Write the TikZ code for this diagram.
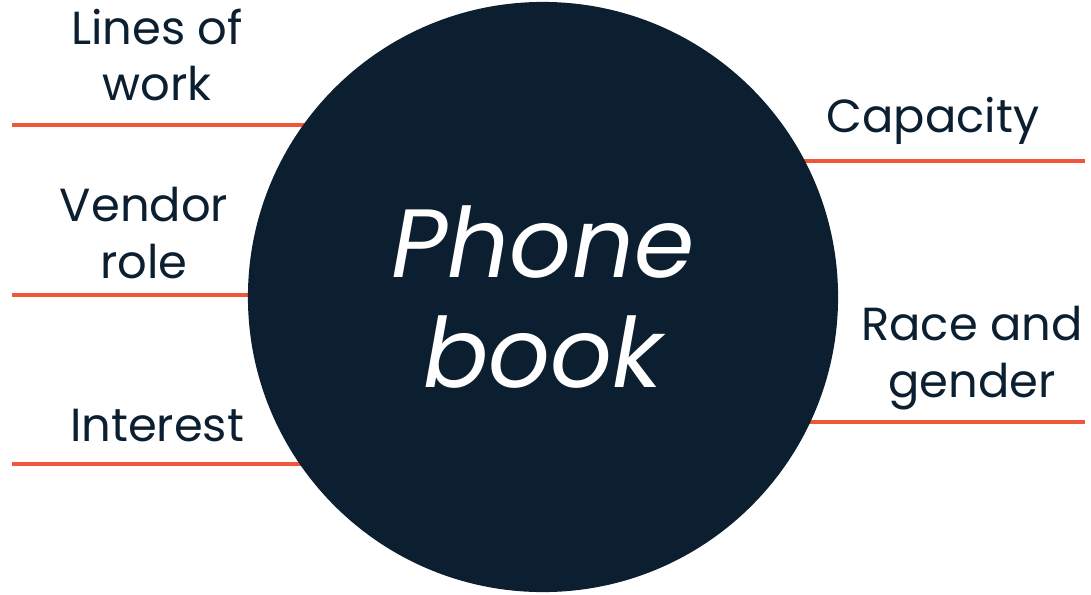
\documentclass[tikz,border=0pt]{standalone}
\usepackage{fontspec}
\setmainfont{Poppins}
\usetikzlibrary{backgrounds}
\definecolor{bookNavy}{RGB}{11,31,48}
\definecolor{lineOrange}{RGB}{240,86,58}

\begin{document}
\begin{tikzpicture}[x=0.025cm, y=-0.025cm,
    field/.style={anchor=center, align=center, text=bookNavy, font=\fontsize{33}{40.5}\selectfont},
    rule/.style={draw=lineOrange, line width=2.9pt}]
    \useasboundingbox (0,0) rectangle (1091,594);

    % Draw the phone book circle
    \node[circle, fill=bookNavy, inner sep=0pt, minimum size=14.75cm, text=white,
          align=center, font=\fontsize{69}{78}\selectfont\itshape] (book) at (543,297) {Phone\\book};

    % Draw field labels on the left
    \node[field] (lines) at (157,55) {Lines of\\work};
    \node[field] (vendor) at (144,233) {Vendor\\role};
    \node[field] (interest) at (157,426) {Interest};

    % Draw field labels on the right
    \node[field] (capacity) at (933,121) {Capacity};
    \node[field] (race) at (972,358) {Race and\\gender};

    % Line starts
    \coordinate (l1) at (12,125);
    \coordinate (l2) at (12,295);
    \coordinate (l3) at (12,464);
    \coordinate (r1) at (1085,161);
    \coordinate (r2) at (1085,422);

    % Draw orange rules behind the circle
    \begin{scope}[on background layer]
        \foreach \c in {l1,l2,l3,r1,r2} {
            \draw[rule] (\c) -- (\c -| book.center);
        }
    \end{scope}
\end{tikzpicture}
\end{document}
